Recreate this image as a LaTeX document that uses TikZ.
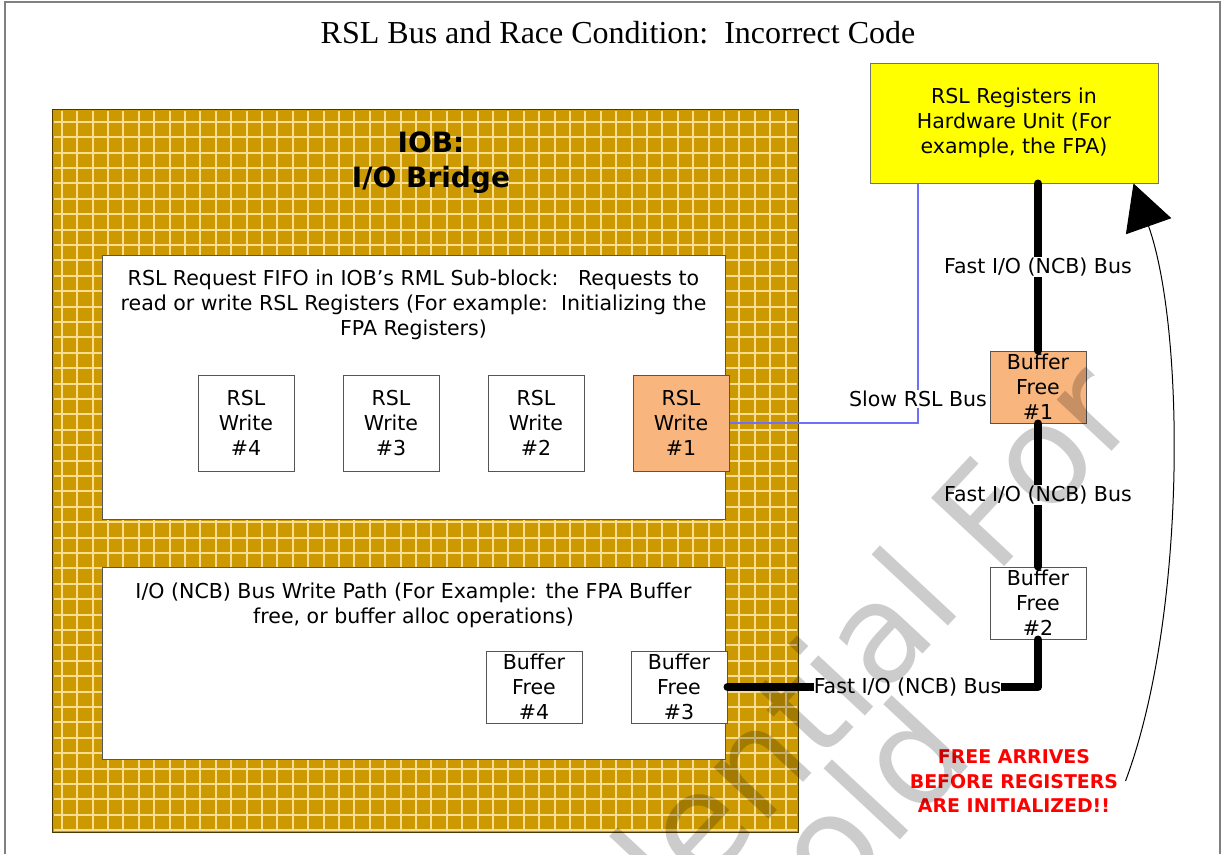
\documentclass[tikz,border=0pt]{standalone}
\usepackage{fontspec}
\setmainfont{DejaVu Sans}
\newfontfamily\titleface{Liberation Serif}
\usetikzlibrary{arrows.meta, positioning}
\newcommand{\lblsize}{\fontsize{15.4pt}{18.75pt}\selectfont}
\newcommand{\headsize}{\fontsize{21pt}{26.25pt}\selectfont\bfseries}
\newcommand{\alarmsize}{\fontsize{14.2pt}{18.4pt}\selectfont\bfseries}
\newcommand{\wmsize}{\fontsize{103pt}{103pt}\selectfont}
\definecolor{iobgold}{HTML}{CC9900}
\definecolor{gridln}{HTML}{F8DE92}
\definecolor{iobedge}{HTML}{4A3B00}
\definecolor{hotfill}{HTML}{F8B57D}
\definecolor{regyellow}{HTML}{FFFF00}
\definecolor{slowblue}{HTML}{6E6EFF}
\definecolor{alarm}{HTML}{FF0000}
\definecolor{frameln}{HTML}{808080}
\definecolor{boxln}{HTML}{555555}

\begin{document}
\begin{tikzpicture}[
  x=0.75pt, y=-0.75pt,
  font=\lblsize,
  panel/.style={draw=boxln, line width=0.75pt, fill=white, inner sep=0pt},
  regbox/.style={panel, minimum width=72pt, minimum height=72pt, align=center},
  buffbox/.style={panel, minimum width=72pt, minimum height=54pt, align=center},
  hot/.style={fill=hotfill},
  bus/.style={line width=6pt, line cap=round, line join=round},
  buslbl/.style={fill=white, inner sep=1pt},
  slow/.style={draw=slowblue, line width=0.8pt},
  warnarrow/.style={-{Triangle[length=34pt, width=36pt]}, line width=0.75pt},
  wmark/.style={text=black, text opacity=0.2, font=\wmsize, inner sep=0pt, rotate=47, anchor=base east}
]
  \useasboundingbox (0,0) rectangle (1222,854);
  \draw[frameln, line width=1.5pt] (5,854) -- (5,2) -- (1220,2) -- (1220,854);

  \node[font=\titleface\fontsize{24pt}{28pt}\selectfont] (title) at (618,33) {RSL Bus and Race Condition:\ \ Incorrect Code};

  % IOB block with its grid
  \node[fill=iobgold, minimum width=558.75pt, minimum height=541.5pt, inner sep=0pt] (iob) at (425.5,471) {};
  \foreach \k in {0,...,47}
    \draw[gridln, line width=1.5pt] ({61.7+15.4*\k},111) -- ({61.7+15.4*\k},831);
  \foreach \k in {0,...,46}
    \draw[gridln, line width=1.5pt] (54,{121.7+15.4*\k}) -- (797,{121.7+15.4*\k});
  \draw[iobedge, line width=1.1pt] (iob.south west) rectangle (iob.north east);
  \node[font=\headsize, align=center] (iobtxt) at (431,163) {IOB:\\I/O Bridge};

  % RSL request FIFO
  \node[panel, minimum width=467.25pt, minimum height=198pt] (fifo) at (413.5,387) {};
  \node[align=center] (fifotxt) at (413.5,305) {RSL Request FIFO in IOB’s RML Sub-block:\ \ \ Requests to\\read or write RSL Registers (For example:\ \ Initializing the\\FPA Registers)};
  \node[regbox] (w4) at (246,423) {RSL\\Write\\\#4};
  \node[regbox, right=36pt of w4] (w3) {RSL\\Write\\\#3};
  \node[regbox, right=36pt of w3] (w2) {RSL\\Write\\\#2};
  \node[regbox, hot, right=36pt of w2] (w1) {RSL\\Write\\\#1};

  % NCB write path
  \node[panel, minimum width=467.25pt, minimum height=144pt] (ncb) at (413.5,663) {};
  \node[align=center] (ncbtxt) at (413.5,605) {I/O (NCB) Bus Write Path (For Example: the FPA Buffer\\free, or buffer alloc operations)};
  \node[buffbox] (b4) at (534,687) {Buffer\\Free\\\#4};
  \node[buffbox, right=36pt of b4] (b3) {Buffer\\Free\\\#3};

  % hardware unit side
  \node[panel, fill=regyellow, draw=black!55, minimum width=216pt, minimum height=90pt, align=center] (hw) at (1014,123) {RSL Registers in\\Hardware Unit (For\\example, the FPA)};
  \node[buffbox, hot] (b1) at (1038,387) {Buffer\\Free\\\#1};
  \node[buffbox] (b2) at (1038,603) {Buffer\\Free\\\#2};

  \coordinate (slowx) at (918,399);
  \draw[slow] (w1.east) -| (hw.south -| slowx);
  \node[buslbl] (slowtxt) at (slowx) {Slow RSL Bus};

  \draw[bus] (hw.south -| b1.north) -- node[buslbl] (fasta) {Fast I/O (NCB) Bus} (b1.north);
  \draw[bus] (b1.south) -- node[buslbl] (fastb) {Fast I/O (NCB) Bus} (b2.north);
  \draw[bus] (b2.south) |- node[buslbl, pos=0.71, inner sep=0pt] (fastc) {Fast I/O (NCB) Bus} (b3.east);

  \node[font=\alarmsize, text=alarm, align=center] (warn) at (1014,781) {FREE ARRIVES\\BEFORE REGISTERS\\ARE INITIALIZED!!};
  \draw[warnarrow] ([xshift=2pt]warn.east) .. controls +(61,-163) and +(52,147) .. ([xshift=-18.75pt]hw.south east);

  % watermark
  \node[wmark] (wma) at (1142,419) {Confidential For};
  \node[wmark] (wmb) at (977,758) {Sold};
\end{tikzpicture}
\end{document}
